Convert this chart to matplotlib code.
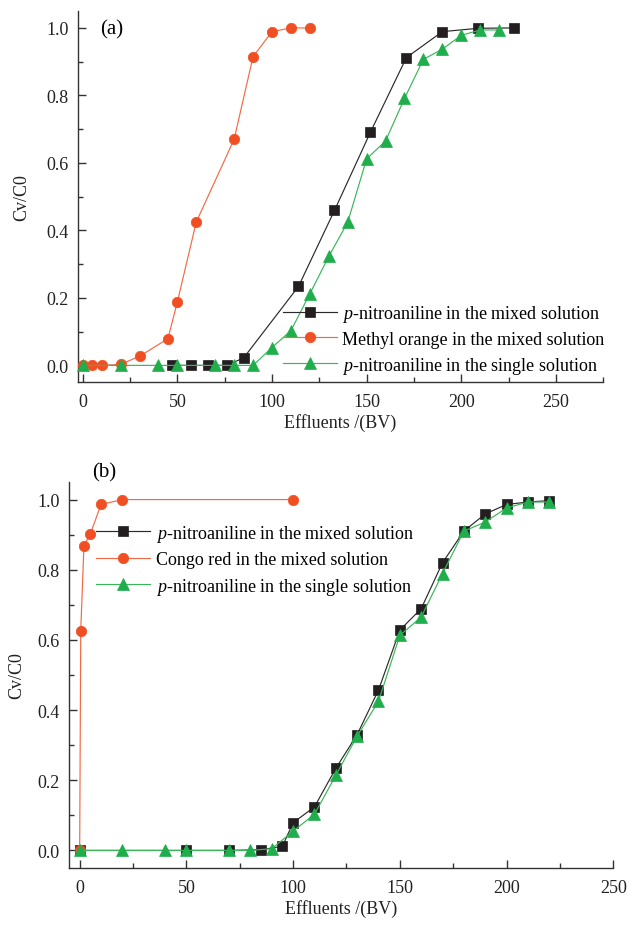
import matplotlib
matplotlib.use("Agg")
import matplotlib.pyplot as plt
from matplotlib.ticker import MultipleLocator

plt.rcParams['font.family'] = ['Liberation Serif', 'DejaVu Serif']
plt.rcParams['mathtext.fontset'] = 'custom'
plt.rcParams['mathtext.it'] = 'Liberation Serif:italic'
plt.rcParams['mathtext.rm'] = 'Liberation Serif'

# ---- Panel (a) data ----
a_pna_mixed_x = [47, 57, 66, 76, 85, 114, 133, 152, 171, 190, 209, 228]
a_pna_mixed_y = [0.0, 0.0, 0.0, 0.0, 0.022, 0.234, 0.459, 0.691, 0.912, 0.989, 0.999, 1.0]
a_mo_x = [0, 5, 10, 20, 30, 45, 50, 60, 80, 90, 100, 110, 120]
a_mo_y = [0.0, 0.0, 0.0, 0.003, 0.027, 0.079, 0.188, 0.425, 0.67, 0.915, 0.989, 1.0, 1.0]
a_pna_single_x = [0, 20, 40, 50, 70, 80, 90, 100, 110, 120, 130, 140, 150, 160, 170, 180, 190, 200, 210, 220]
a_pna_single_y = [0.0, 0.0, 0.0, 0.0, 0.0, 0.0, 0.0, 0.053, 0.103, 0.212, 0.323, 0.424, 0.612, 0.665, 0.791, 0.907, 0.937, 0.978, 0.994, 0.994]

# ---- Panel (b) data ----
b_pna_mixed_x = [0, 50, 70, 85, 95, 100, 110, 120, 130, 140, 150, 160, 170, 180, 190, 200, 210, 220]
b_pna_mixed_y = [0.0, 0.0, 0.0, 0.002, 0.012, 0.079, 0.124, 0.234, 0.33, 0.457, 0.628, 0.689, 0.82, 0.91, 0.959, 0.986, 0.993, 0.997]
b_cr_x = [0, 0.5, 2, 5, 10, 20, 100]
b_cr_y = [0.0, 0.625, 0.869, 0.902, 0.986, 1.0, 1.0]
b_pna_single_x = [0, 20, 40, 50, 70, 80, 90, 100, 110, 120, 130, 140, 150, 160, 170, 180, 190, 200, 210, 220]
b_pna_single_y = [0.0, 0.0, 0.0, 0.0, 0.0, 0.0, 0.005, 0.055, 0.103, 0.214, 0.326, 0.425, 0.613, 0.665, 0.789, 0.91, 0.936, 0.976, 0.993, 0.993]

labels_a = [r'$p$-nitroaniline in the mixed solution',
            'Methyl orange in the mixed solution',
            r'$p$-nitroaniline in the single solution']
labels_b = [r'$p$-nitroaniline in the mixed solution',
            'Congo red in the mixed solution',
            r'$p$-nitroaniline in the single solution']

BLACK = '#231f20'
BLACK_LINE = '#2a2a2a'
ORANGE = '#f04e23'
ORANGE_LINE = '#f26a45'
GREEN = '#1fae4b'
GREEN_LINE = '#3ab55a'
SPINE = '#333333'

fig = plt.figure(figsize=(6.29, 9.28), dpi=100)
ax_a = fig.add_axes([0.124, 0.587, 0.835, 0.400])
ax_b = fig.add_axes([0.1097, 0.0636, 0.8653, 0.4159])


def style(ax, xlim, ylabelpad):
    ax.set_xlim(*xlim)
    ax.set_ylim(-0.05, 1.05)
    for s in ['top', 'right']:
        ax.spines[s].set_visible(False)
    for s in ['left', 'bottom']:
        ax.spines[s].set_color(SPINE)
        ax.spines[s].set_linewidth(1.0)
    ax.xaxis.set_major_locator(MultipleLocator(50))
    ax.xaxis.set_minor_locator(MultipleLocator(25))
    ax.yaxis.set_major_locator(MultipleLocator(0.2))
    ax.yaxis.set_minor_locator(MultipleLocator(0.1))
    ax.yaxis.set_major_formatter(plt.FuncFormatter(lambda v, p: f'{v:.1f}'))
    ax.tick_params(which='major', direction='in', length=6, width=1.0, color=SPINE,
                   labelsize=13, labelcolor='#222222')
    ax.tick_params(axis='y', which='major', pad=6.5)
    ax.tick_params(axis='x', which='major', pad=8)
    ax.tick_params(which='minor', direction='in', length=3.5, width=1.0, color=SPINE)
    ax.set_xlabel('Effluents /(BV)', fontsize=13, labelpad=2, color='#222222')
    ax.set_ylabel('Cv/C0', fontsize=13, labelpad=ylabelpad, color='#222222')


def plot_series(ax, x, y, lc, mc, marker, ms, label, z):
    ax.plot(x, y, color=lc, lw=0.85, marker=marker, ms=ms, mfc=mc, mec=mc,
            mew=0.5, label=label, zorder=z, clip_on=False)


style(ax_a, (-2.5, 275), 12)
plot_series(ax_a, a_pna_mixed_x, a_pna_mixed_y, BLACK_LINE, BLACK, 's', 7, labels_a[0], 3)
plot_series(ax_a, a_mo_x, a_mo_y, ORANGE_LINE, ORANGE, 'o', 7.5, labels_a[1], 4)
plot_series(ax_a, a_pna_single_x, a_pna_single_y, GREEN_LINE, GREEN, '^', 9, labels_a[2], 5)
ax_a.legend(loc='upper left', bbox_to_anchor=(0.39, 0.214), frameon=False, fontsize=13,
            handlelength=3.0, handletextpad=0.3, labelspacing=0.38, borderpad=0,
            borderaxespad=0)
ax_a.text(0.042, 0.951, '(a)', transform=ax_a.transAxes, fontsize=15, ha='left', va='center')

style(ax_b, (-5, 250), 9)
plot_series(ax_b, b_pna_mixed_x, b_pna_mixed_y, BLACK_LINE, BLACK, 's', 7, labels_b[0], 3)
plot_series(ax_b, b_cr_x, b_cr_y, ORANGE_LINE, ORANGE, 'o', 7.5, labels_b[1], 4)
plot_series(ax_b, b_pna_single_x, b_pna_single_y, GREEN_LINE, GREEN, '^', 9, labels_b[2], 5)
ax_b.legend(loc='upper left', bbox_to_anchor=(0.05, 0.895), frameon=False, fontsize=13,
            handlelength=3.0, handletextpad=0.3, labelspacing=0.42, borderpad=0,
            borderaxespad=0)
ax_b.text(0.042, 1.026, '(b)', transform=ax_b.transAxes, fontsize=15, ha='left', va='center')

fig.savefig('out.png', dpi=100)
